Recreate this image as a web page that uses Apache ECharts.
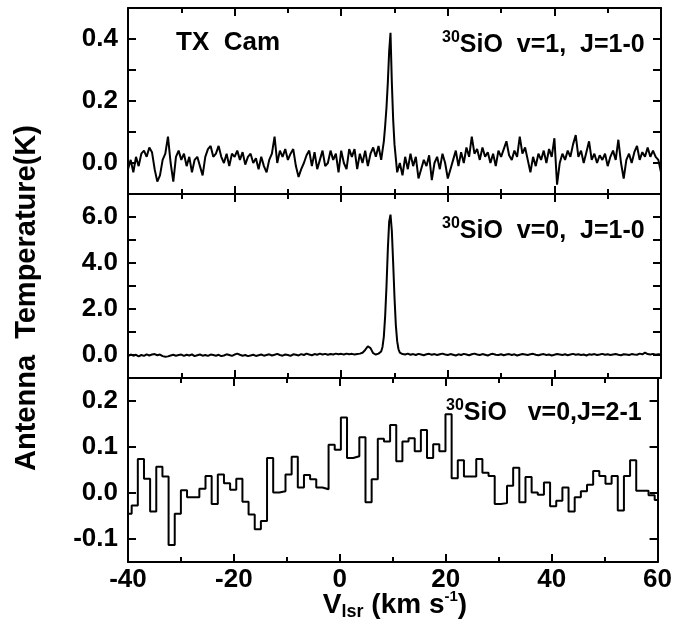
<!DOCTYPE html>
<html><head><meta charset="utf-8">
<script src="https://cdn.jsdelivr.net/npm/echarts@6/dist/echarts.min.js"></script>
<style>html,body{margin:0;padding:0;background:#fff}#c{width:675px;height:627px}</style>
</head><body><div id="c"></div>
<script>
// ---- data ----
// velocity grid of the two upper spectra: -40 .. 60 km/s, 0.5 km/s channels
const gridStart = -40, gridStep = 0.5;
// 30SiO v=1 J=1-0 (K)
const ta1 = [
 -0.02, 0.01, -0.03, 0.02, -0.01, 0.03, 0.04, 0.02, 0.05, 0.035,
 -0.02, -0.06, -0.04, 0.01, 0.03, 0.085, 0.0, -0.06, 0.02, 0.04,
 0.01, 0.03, -0.01, 0.02, -0.03, 0.01, 0.02, -0.01, -0.04, 0.02,
 0.045, 0.055, 0.02, 0.03, 0.055, 0.02, 0.0, 0.03, -0.01, 0.03,
 0.02, 0.04, 0.01, 0.035, -0.005, 0.02, 0.03, 0.0, 0.015, -0.02,
 0.02, -0.01, -0.03, 0.01, 0.03, 0.085, 0.0, 0.04, 0.02, 0.045,
 0.01, 0.03, 0.045, -0.01, -0.045, -0.02, 0.0, 0.025, 0.04, -0.01,
 0.035, -0.02, 0.01, 0.04, -0.01, 0.0, 0.04, 0.01, 0.03, -0.03,
 0.04, 0.0, -0.02, 0.045, 0.02, 0.045, -0.02, 0.03, 0.0, 0.04,
 -0.01, 0.03, 0.05, 0.02, 0.055, 0.01, 0.07, 0.18, 0.36, 0.26,
 0.06, -0.03, 0.0, -0.04, 0.02, -0.02, 0.03, -0.01, 0.02, -0.05,
 -0.02, 0.01, -0.01, 0.025, -0.055, 0.0, 0.02, -0.02, 0.03, 0.0,
 -0.05, -0.02, 0.01, 0.04, -0.01, 0.035, 0.0, 0.05, 0.02, 0.085,
 0.03, 0.045, 0.01, 0.05, 0.02, 0.035, 0.0, 0.03, -0.01, 0.04,
 0.02, 0.045, 0.07, 0.025, 0.01, 0.04, 0.02, 0.085, 0.03, 0.05,
 0.01, -0.03, 0.02, -0.01, 0.03, 0.01, 0.04, 0.0, 0.045, 0.02,
 0.08, -0.07, 0.0, 0.03, 0.01, 0.04, 0.02, 0.06, 0.09, 0.02,
 0.04, 0.0, 0.035, 0.07, 0.01, 0.03, 0.0, 0.025, 0.01, 0.03,
 -0.01, 0.02, 0.04, 0.01, 0.075, 0.0, -0.05, 0.01, 0.03, 0.0,
 0.035, 0.055, 0.01, 0.035, 0.02, 0.05, 0.02, 0.04, 0.02, 0.01,
 -0.03
];
const peakVel1 = [8.25, 8.75, 9.25, 9.75];
const peakTa1  = [0.12, 0.26, 0.42, 0.14];
// 30SiO v=0 J=1-0 (K)
const ta2 = [
 -0.05, 0.02, -0.03, 0.01, -0.06, 0.0, -0.04, 0.03, -0.02, 0.02,
 0.04, -0.01, 0.02, -0.05, -0.08, -0.06, -0.02, 0.01, -0.03, 0.0,
 0.02, -0.04, 0.01, -0.02, 0.03, -0.05, -0.01, 0.02, -0.03, 0.0,
 -0.04, 0.02, 0.0, -0.03, 0.01, -0.05, -0.02, 0.03, 0.0, -0.04,
 0.02, 0.06, 0.01, -0.03, 0.0, -0.05, -0.02, 0.01, -0.04, -0.01,
 0.02, -0.03, 0.0, 0.03, -0.02, 0.01, 0.05, 0.0, -0.03, 0.02,
 0.0, -0.04, 0.03, 0.01, -0.02, 0.04, 0.0, 0.06, 0.02, -0.01,
 0.04, 0.01, 0.06, 0.02, 0.05, 0.01, 0.04, 0.02, 0.06, 0.03,
 0.05, 0.02, 0.06, 0.03, 0.05, 0.02, 0.04, 0.06, 0.1, 0.22,
 0.38, 0.3, 0.08, 0.02, 0.06, 0.15, 0.8, 3.0, 5.8, 5.4,
 2.5, 0.6, 0.1, 0.04, 0.02, 0.06, 0.01, 0.04, 0.0, 0.05,
 0.02, -0.01, 0.03, 0.05, 0.01, 0.04, 0.0, 0.03, 0.06, 0.02,
 0.0, 0.04, 0.01, -0.02, 0.03, 0.0, 0.05, 0.02, -0.01, 0.03,
 0.06, 0.02, 0.0, 0.04, 0.01, -0.02, 0.03, 0.05, 0.01, 0.0,
 0.03, -0.01, 0.02, 0.04, 0.0, 0.03, -0.02, 0.01, 0.04, 0.02,
 0.0, 0.03, 0.05, 0.01, -0.01, 0.02, 0.04, 0.0, 0.02, -0.02,
 0.01, 0.04, 0.02, 0.0, 0.03, -0.01, 0.02, 0.05, 0.01, 0.03,
 0.0, 0.02, -0.02, 0.03, 0.01, 0.04, 0.0, 0.02, 0.05, 0.01,
 0.03, 0.0, 0.02, 0.04, 0.01, -0.01, 0.03, 0.02, 0.0, 0.04,
 0.02, 0.01, 0.06, 0.03, 0.1, 0.04, 0.02, 0.05, 0.01, 0.03,
 0.02
];
const peakVel2 = [7.75, 8.25, 8.75, 9.25, 9.75, 10.25, 10.75];
const peakTa2  = [0.35, 1.7, 4.6, 6.1, 4.0, 1.3, 0.25];
// 30SiO v=0 J=2-1 (K), channels of 1.162 km/s starting at -40.47 km/s
const binStart = -40.47, binWidth = 1.162;
const ta3 = [
 -0.045, -0.027, 0.074, 0.031, -0.04, 0.057, 0.036, -0.113, -0.045, 0.006,
 -0.009, -0.009, 0.009, 0.037, -0.024, 0.04, 0.021, 0.007, 0.031, -0.019,
 -0.047, -0.079, -0.061, 0.076, 0.001, 0.004, 0.04, 0.079, 0.012, 0.039,
 0.03, 0.012, 0.008, 0.105, 0.094, 0.164, 0.076, 0.08, 0.121, -0.02,
 0.03, 0.118, 0.112, 0.148, 0.069, 0.112, 0.119, 0.091, 0.137, 0.076,
 0.106, 0.091, 0.171, 0.032, 0.071, 0.036, 0.036, 0.074, 0.044, 0.037,
 -0.024, -0.022, 0.016, 0.055, -0.02, 0.035, 0.001, -0.004, 0.023, -0.029,
 -0.017, 0.012, -0.04, -0.009, 0.004, 0.018, 0.048, 0.037, 0.02, 0.037,
 -0.038, 0.037, 0.071, 0.005, 0.005, -0.005, -0.015
];
const xLabelValues = [-40, -20, 0, 20, 40, 60];
const yTicks3 = [-0.1, 0, 0.1, 0.2];

// ---- build series data ----
function merged(base, pv, pt) {
  const pts = base.map((t, i) => [gridStart + i * gridStep, t]);
  pv.forEach((v, i) => pts.push([v, pt[i]]));
  pts.sort((a, b) => a[0] - b[0]);
  return pts;
}
const d1 = merged(ta1, peakVel1, peakTa1);
const d2 = merged(ta2, peakVel2, peakTa2);
const d3 = ta3.map((t, k) => [binStart + k * binWidth, t]);
d3.push([binStart + ta3.length * binWidth, ta3[ta3.length - 1]]);

const FONT = 'Liberation Sans';
const black = '#000';
const lineW = 2;
const TICKFS = 26;
const grids = [
  {left: 128, width: 533, top: 8, height: 186},
  {left: 128, width: 533, top: 194, height: 184},
  {left: 128, width: 533, top: 378, height: 184}
];
function xAx(g, pos, labels) {
  return {
    type: 'value', gridIndex: g, position: pos, min: -40, max: 60, interval: 20,
    axisLine: {show: true, onZero: false, lineStyle: {color: black, width: lineW}},
    axisTick: {show: true, inside: true, length: 8, lineStyle: {color: black, width: lineW}},
    minorTick: {show: true, splitNumber: 2, length: 5, lineStyle: {color: black, width: lineW}},
    axisLabel: {show: labels, customValues: xLabelValues, margin: 5, color: black,
      fontFamily: FONT, fontWeight: 'bold', fontSize: TICKFS},
    splitLine: {show: false}, minorSplitLine: {show: false}
  };
}
function yAx(g, pos, cfg, labels) {
  return Object.assign({
    type: 'value', gridIndex: g, position: pos,
    axisLine: {show: true, onZero: false, lineStyle: {color: black, width: lineW}},
    axisTick: {show: true, inside: true, length: 8, lineStyle: {color: black, width: lineW}},
    splitLine: {show: false}
  }, cfg, {
    axisLabel: Object.assign({show: labels, margin: 10, color: black,
      fontFamily: FONT, fontWeight: 'bold', fontSize: TICKFS}, cfg.axisLabel || {})
  });
}
const y1 = {min: -0.1, max: 0.5, interval: 0.1,
  axisLabel: {formatter: v => (Math.round(v * 10) % 2 === 0 && Math.round(v*10) >= 0) ? v.toFixed(1) : ''}};
const y2 = {min: -1, max: 7, interval: 1,
  axisLabel: {formatter: v => (Math.round(v) % 2 === 0 && v >= 0) ? v.toFixed(1) : ''}};
const y3 = {min: -0.15, max: 0.25,
  axisTick: {show: true, inside: true, length: 8, customValues: yTicks3, lineStyle: {color: black, width: lineW}},
  axisLabel: {customValues: yTicks3, formatter: v => v.toFixed(1)}};

const xAxis = [], yAxis = [];
for (let g = 0; g < 3; g++) {
  xAxis.push(xAx(g, 'bottom', g === 2));
  xAxis.push(xAx(g, 'top', false));
}
[y1, y2, y3].forEach((c, g) => {
  yAxis.push(yAx(g, 'left', c, true));
  yAxis.push(yAx(g, 'right', c, false));
});

function ser(g, data, step) {
  const s = {type: 'line', xAxisIndex: g * 2, yAxisIndex: g * 2, data: data,
    showSymbol: false, symbol: 'none', clip: true, animation: false,
    lineStyle: {color: black, width: lineW}};
  if (step) s.step = step;
  return s;
}

const bold = (size) => 'bold ' + size + 'px "' + FONT + '"';
function label(x, y, sup, main) {
  return {type: 'text', x: x, y: y, style: {
    text: '{s|' + sup + '}{m|' + main + '}', fill: black,
    textVerticalAlign: 'middle',
    rich: {
      s: {fontFamily: FONT, fontWeight: 'bold', fontSize: 16, verticalAlign: 'top', lineHeight: 30, fill: black},
      m: {fontFamily: FONT, fontWeight: 'bold', fontSize: 25, verticalAlign: 'middle', lineHeight: 30, fill: black}
    }}};
}

const chart = echarts.init(document.getElementById('c'), null, {renderer: 'canvas'});
chart.setOption({
  animation: false,
  backgroundColor: '#fff',
  grid: grids,
  xAxis: xAxis,
  yAxis: yAxis,
  series: [ser(0, d1), ser(1, d2), ser(2, d3, 'end')],
  graphic: [
    {type: 'text', x: 176, y: 43, style: {text: 'TX  Cam', font: bold(26), fill: black, textVerticalAlign: 'middle'}},
    label(442, 45, '30', 'SiO  v=1,  J=1-0'),
    label(442, 231, '30', 'SiO  v=0,  J=1-0'),
    label(446, 413, '30', 'SiO   v=0,J=2-1'),
    {type: 'text', x: 27, y: 298, rotation: Math.PI / 2,
      style: {text: 'Antenna  Temperature(K)', font: bold(29), fill: black, textAlign: 'center', textVerticalAlign: 'middle'}},
    {type: 'text', x: 395, y: 605, style: {
      text: '{m|V}{b|lsr}{m| (km s}{p|-1}{m|)}', textAlign: 'center', textVerticalAlign: 'middle', fill: black,
      rich: {
        m: {fontFamily: FONT, fontWeight: 'bold', fontSize: 28, lineHeight: 32, verticalAlign: 'middle', fill: black},
        b: {fontFamily: FONT, fontWeight: 'bold', fontSize: 18, lineHeight: 32, verticalAlign: 'bottom', fill: black},
        p: {fontFamily: FONT, fontWeight: 'bold', fontSize: 15, lineHeight: 32, verticalAlign: 'top', fill: black}
      }}}
  ]
});
</script>
</body></html>
